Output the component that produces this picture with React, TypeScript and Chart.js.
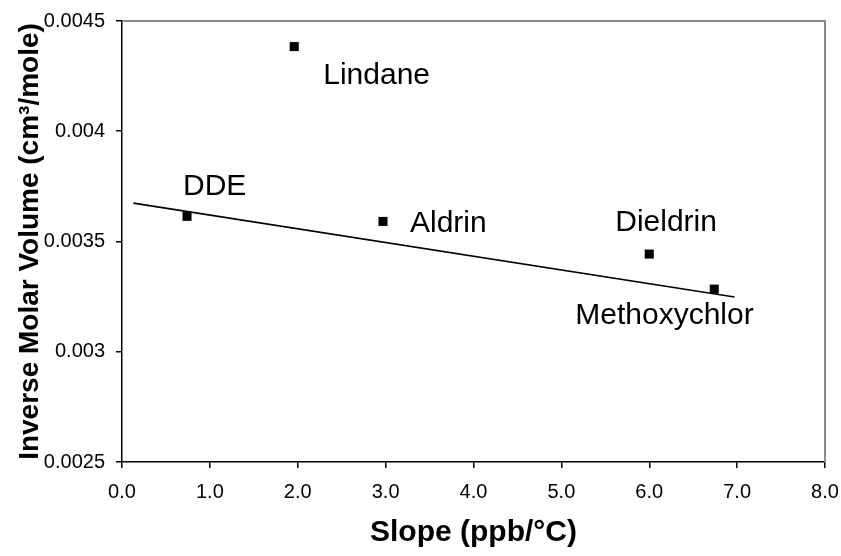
import React, { useEffect, useRef } from "react";
import { Chart, registerables } from "chart.js";

Chart.register(...registerables);

// ---- data ----
const compounds = ["DDE", "Lindane", "Aldrin", "Dieldrin", "Methoxychlor"];
const slopes = [0.74, 1.96, 2.97, 6.0, 6.74];
const inverseMolarVolume = [0.003614, 0.004384, 0.003591, 0.003443, 0.003284];
const trendX = [0.13, 6.97];
const trendY = [0.003674, 0.003248];
const xTicks = [0, 1, 2, 3, 4, 5, 6, 7, 8];
const yTicks = [0.0025, 0.003, 0.0035, 0.004, 0.0045];

// label placement (pixel offsets from each marker: left edge, vertical centre)
const labelOffsets = [
  [-4, -30],
  [29, 29],
  [27, 2],
  [-34, -31],
  [-139, 27],
];

const FONT = 'Arial, "Liberation Sans", sans-serif';

const decorPlugin = {
  id: "decor",
  beforeDatasetsDraw(chart: any) {
    const { ctx, chartArea: a } = chart;
    ctx.save();
    ctx.strokeStyle = "#8a8a8a";
    ctx.lineWidth = 2;
    ctx.beginPath();
    ctx.moveTo(a.left, a.top);
    ctx.lineTo(a.right, a.top);
    ctx.lineTo(a.right, a.bottom);
    ctx.stroke();
    ctx.restore();
  },
  afterDatasetsDraw(chart: any) {
    const { ctx } = chart;
    const xs = chart.scales.x;
    const ys = chart.scales.y;
    ctx.save();
    ctx.fillStyle = "#000";
    ctx.font = `30px ${FONT}`;
    ctx.textAlign = "left";
    ctx.textBaseline = "middle";
    compounds.forEach((name, i) => {
      const px = xs.getPixelForValue(slopes[i]);
      const py = ys.getPixelForValue(inverseMolarVolume[i]);
      const [dx, dy] = labelOffsets[i];
      ctx.fillText(name, px + dx, py + dy);
    });
    ctx.restore();
  },
};

export default function App() {
  const ref = useRef<HTMLCanvasElement | null>(null);

  useEffect(() => {
    if (!ref.current) return;
    const chart = new Chart(ref.current, {
      type: "scatter",
      data: {
        datasets: [
          {
            label: "points",
            data: slopes.map((x, i) => ({ x, y: inverseMolarVolume[i] })),
            pointStyle: "rect",
            pointRadius: 6.4,
            pointBorderWidth: 0,
            backgroundColor: "#000",
            borderColor: "#000",
            showLine: false,
          },
          {
            label: "trend",
            data: trendX.map((x, i) => ({ x, y: trendY[i] })),
            showLine: true,
            pointRadius: 0,
            borderColor: "#000",
            borderWidth: 1.6,
          },
        ],
      },
      options: {
        animation: false,
        responsive: false,
        devicePixelRatio: 1,
        layout: { padding: { top: 21, right: 16, bottom: 0, left: 0 } },
        plugins: { legend: { display: false }, tooltip: { enabled: false } },
        scales: {
          x: {
            type: "linear",
            min: 0,
            max: 8,
            afterBuildTicks: (s: any) => {
              s.ticks = xTicks.map((v) => ({ value: v }));
            },
            afterFit: (s: any) => {
              s.height = 94;
              s.paddingLeft = 0;
              s.paddingRight = 0;
            },
            ticks: {
              color: "#000",
              font: { family: FONT, size: 20 },
              padding: 12,
              maxRotation: 0,
              callback: (v: any) => Number(v).toFixed(1),
            },
            grid: { drawOnChartArea: false, drawTicks: true, tickLength: 6, color: "#000", lineWidth: 1.5 },
            border: { display: true, color: "#000", width: 1.5 },
            title: {
              display: true,
              text: "Slope (ppb/°C)",
              color: "#000",
              font: { family: FONT, size: 30, weight: "bold" },
              padding: { top: 0, bottom: 5 },
            },
          },
          y: {
            type: "linear",
            min: 0.0025,
            max: 0.0045,
            afterBuildTicks: (s: any) => {
              s.ticks = yTicks.map((v) => ({ value: v }));
            },
            afterFit: (s: any) => {
              s.width = 122;
              s.paddingTop = 0;
              s.paddingBottom = 0;
            },
            ticks: {
              color: "#000",
              font: { family: FONT, size: 20 },
              padding: 11,
              callback: (v: any) => String(Number(Number(v).toFixed(4))),
            },
            grid: { drawOnChartArea: false, drawTicks: true, tickLength: 6, color: "#000", lineWidth: 1.5 },
            border: { display: true, color: "#000", width: 1.5 },
            title: {
              display: true,
              text: "Inverse Molar Volume (cm³/mole)",
              color: "#000",
              font: { family: FONT, size: 28, weight: "bold" },
              padding: { top: 13, bottom: 0 },
            },
          },
        },
      },
      plugins: [decorPlugin],
    });
    return () => chart.destroy();
  }, []);

  return (
    <div style={{ position: "fixed", left: 0, top: 0, width: 841, height: 556, background: "#fff" }}>
      <canvas ref={ref} width={841} height={556} style={{ display: "block" }} />
    </div>
  );
}
